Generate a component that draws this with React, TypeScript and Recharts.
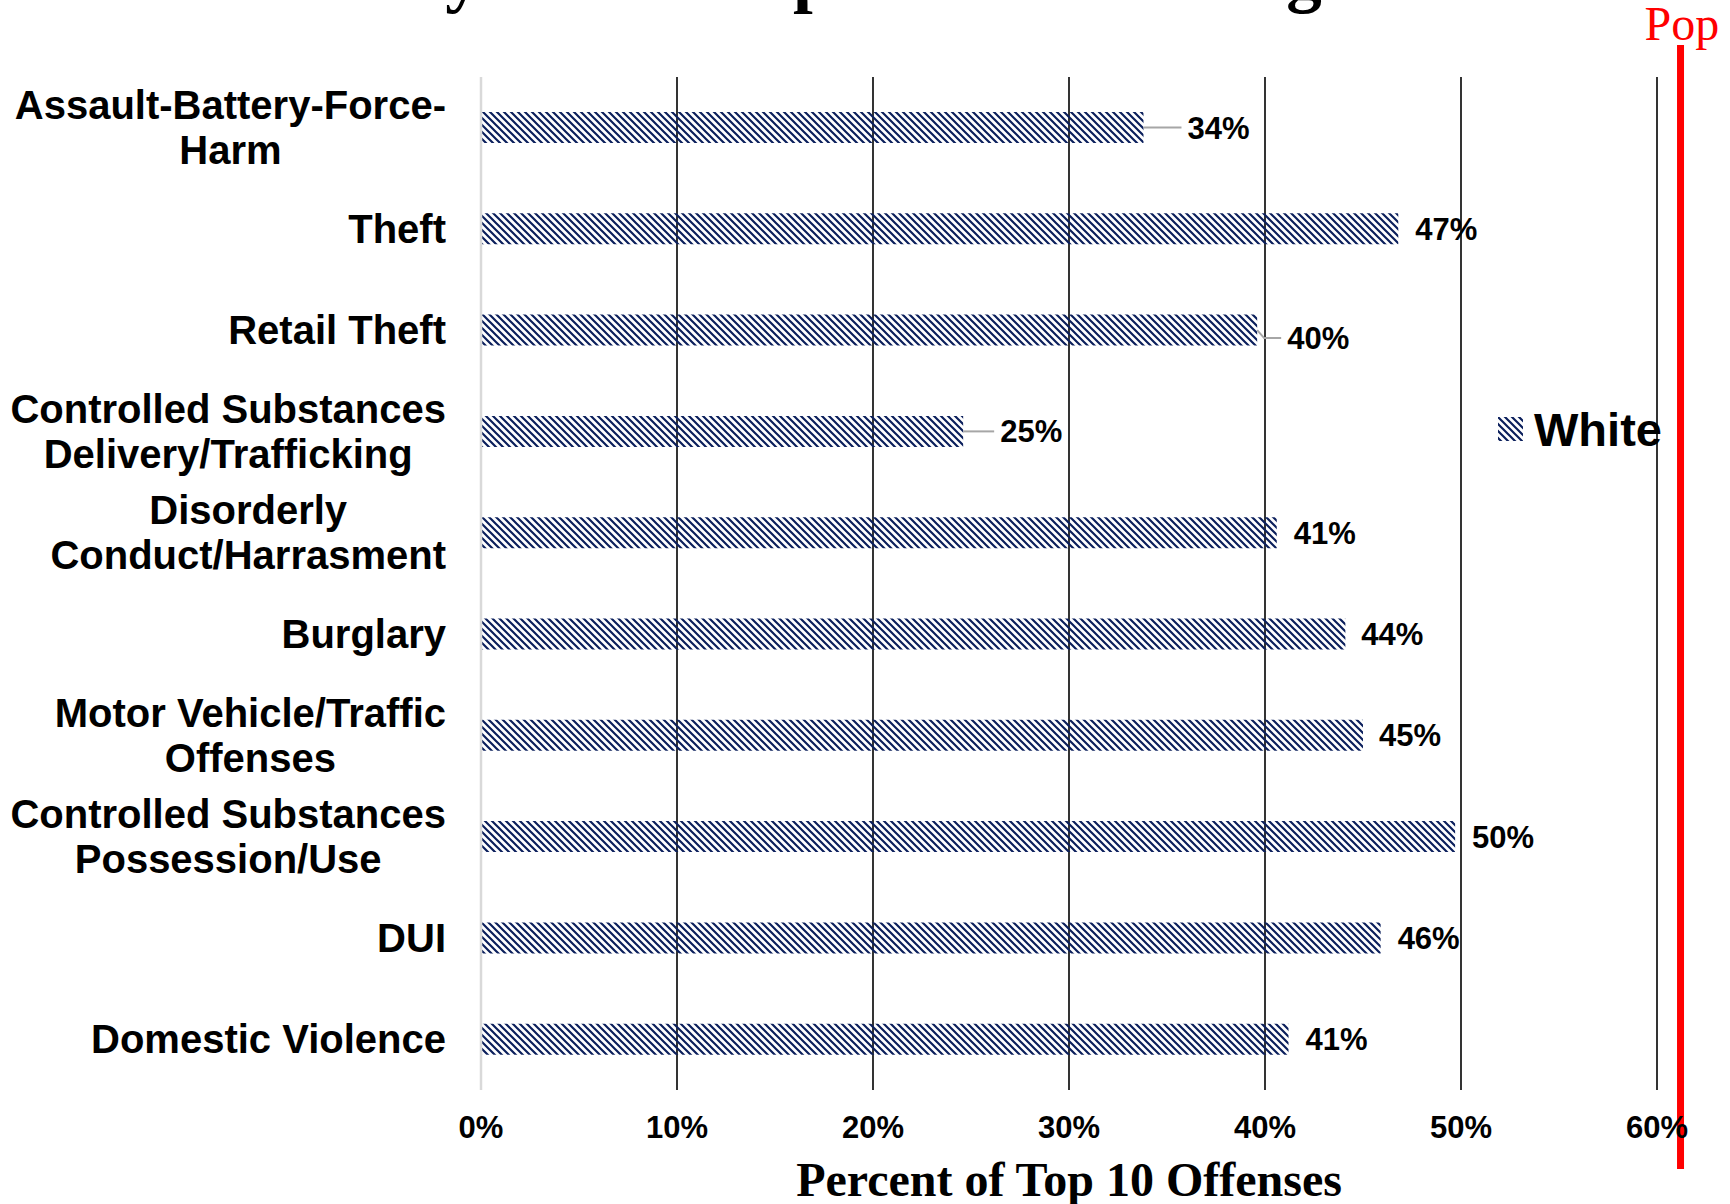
import React from "react";
import {
    BarChart,
    Bar,
    XAxis,
    YAxis,
    CartesianGrid,
    LabelList,
    Legend,
    ReferenceLine,
} from "recharts";

// categories, top to bottom ("\n" marks the line break of the axis label)
const offenses = [
    "Assault-Battery-Force-\nHarm",
    "Theft",
    "Retail Theft",
    "Controlled Substances\nDelivery/Trafficking",
    "Disorderly\nConduct/Harrasment",
    "Burglary",
    "Motor Vehicle/Traffic\nOffenses",
    "Controlled Substances\nPossession/Use",
    "DUI",
    "Domestic Violence",
];

// percent of each offense charged to White defendants
const whiteShare = [33.8, 46.8, 39.6, 24.6, 40.6, 44.1, 45.0, 49.7, 45.9, 41.2];

const pctTicks = [0, 10, 20, 30, 40, 50, 60];
const popShare = 61.2;

const seriesName = "White";
const chartTitle = "Summary for the Top Offenses Charged";
const axisTitle = "Percent of Top 10 Offenses";
const popLabel = "Pop";

const data = offenses.map((offense, i) => ({ offense, white: whiteShare[i] }));

const SANS = "'Liberation Sans', Arial, sans-serif";
const SERIF = "'Liberation Serif', 'Times New Roman', serif";
const NAVY = "#0b1f5c";

// gap between bar end and its label; a few labels were dragged out with leader lines
const labelGap = [44, 17, 30, 37, 17, 16, 16, 17, 17, 17];
const labelDy = [0, 0, 8, 0, 0, 0, 0, 0, 0, 0];
const hasLeader = [true, false, true, true, false, false, false, false, false, false];

let ctx: CanvasRenderingContext2D | null = null;
const textWidth = (s: string, font: string) => {
    if (!ctx) ctx = document.createElement("canvas").getContext("2d");
    if (!ctx) return s.length * 20;
    ctx.font = font;
    return ctx.measureText(s).width;
};

const HatchPattern = ({ id }: { id: string }) => (
    <pattern id={id} width={7} height={7} patternUnits="userSpaceOnUse">
        <path
            d="M-1,-1 L8,8 M-1,6 L1,8 M6,-1 L8,1"
            stroke={NAVY}
            strokeWidth={2.2}
        />
    </pattern>
);

const CategoryTick = (props: any) => {
    const { x, y, payload } = props;
    const lines: string[] = String(payload.value).split("\n");
    const font = `bold 40px ${SANS}`;
    const maxW = Math.max(...lines.map((l) => textWidth(l, font)));
    const cx = x - maxW / 2;
    return (
        <g>
            {lines.map((l, i) => (
                <text
                    key={i}
                    x={cx}
                    y={y + (i - (lines.length - 1) / 2) * 45 + 14}
                    textAnchor="middle"
                    fontFamily={SANS}
                    fontWeight="bold"
                    fontSize={40}
                    fill="#000"
                >
                    {l}
                </text>
            ))}
        </g>
    );
};

const PctTick = (props: any) => {
    const { x, y, payload } = props;
    return (
        <text
            x={x}
            y={y + 48}
            textAnchor="middle"
            fontFamily={SANS}
            fontWeight="bold"
            fontSize={31}
            fill="#000"
        >
            {`${payload.value}%`}
        </text>
    );
};

const ValueLabel = (props: any) => {
    const { x, y, width, height, value, index } = props;
    const end = x + width;
    const cy = y + height / 2;
    const gap = labelGap[index] ?? 17;
    const dy = labelDy[index] ?? 0;
    return (
        <g>
            {hasLeader[index] && (
                <polyline
                    points={
                        dy
                            ? `${end},${cy} ${end + 7},${cy + dy} ${end + gap - 6},${cy + dy}`
                            : `${end},${cy} ${end + gap - 6},${cy}`
                    }
                    fill="none"
                    stroke="#a6a6a6"
                    strokeWidth={2}
                />
            )}
            <text
                x={end + gap}
                y={cy + dy + 11}
                fontFamily={SANS}
                fontWeight="bold"
                fontSize={31}
                fill="#000"
            >
                {`${Math.round(value)}%`}
            </text>
        </g>
    );
};

const LegendBox = () => (
    <svg width={180} height={60} style={{ display: "block" }}>
        <defs>
            <HatchPattern id="hatchLegend" />
        </defs>
        <rect x={3} y={17} width={25} height={24} fill="url(#hatchLegend)" />
        <text x={39} y={46} fontFamily={SANS} fontWeight="bold" fontSize={47} fill="#000">
            {seriesName}
        </text>
    </svg>
);

const App = () => {
    return (
        <div style={{ position: "absolute", left: 0, top: 0, width: 1730, height: 1204, background: "#fff", overflow: "hidden" }}>
            <BarChart
                width={1730}
                height={1204}
                data={data}
                layout="vertical"
                margin={{ top: 77, right: 73, bottom: 0, left: 0 }}
            >
                <defs>
                    <HatchPattern id="hatchWhite" />
                </defs>
                <text x={181} y={-1.5} fontFamily={SERIF} fontWeight="bold" fontSize={71} fill="#000">
                    {chartTitle}
                </text>
                <CartesianGrid horizontal={false} stroke="#000" strokeWidth={1.6} />
                <XAxis
                    type="number"
                    domain={[0, 60]}
                    ticks={pctTicks}
                    height={114}
                    axisLine={false}
                    tickLine={false}
                    tickSize={0}
                    tickMargin={0}
                    tick={<PctTick />}
                    label={{
                        content: (p: any) => {
                            const vb = p.viewBox;
                            return (
                                <text
                                    x={vb.x + vb.width / 2}
                                    y={vb.y + 106}
                                    textAnchor="middle"
                                    fontFamily={SERIF}
                                    fontWeight="bold"
                                    fontSize={48}
                                    fill="#000"
                                >
                                    {axisTitle}
                                </text>
                            );
                        },
                    }}
                />
                <YAxis
                    type="category"
                    dataKey="offense"
                    width={481}
                    interval={0}
                    tickLine={false}
                    tickSize={0}
                    tickMargin={35}
                    axisLine={{ stroke: "#d9d9d9", strokeWidth: 2.5 }}
                    tick={<CategoryTick />}
                />
                <Legend
                    layout="horizontal"
                    verticalAlign="middle"
                    align="center"
                    wrapperStyle={{ left: 1495, top: 400, width: 180 }}
                    content={() => <LegendBox />}
                />
                <Bar
                    dataKey="white"
                    name={seriesName}
                    fill="url(#hatchWhite)"
                    barSize={31}
                    isAnimationActive={false}
                >
                    <LabelList dataKey="white" content={<ValueLabel />} />
                </Bar>
                <ReferenceLine
                    x={popShare}
                    ifOverflow="visible"
                    stroke="#ff0000"
                    strokeWidth={7}
                    shape={(p: any) => (
                        <line
                            x1={p.x1}
                            x2={p.x2}
                            y1={Math.min(p.y1, p.y2) - 32}
                            y2={Math.max(p.y1, p.y2) + 79}
                            stroke="#ff0000"
                            strokeWidth={7}
                        />
                    )}
                    label={{
                        content: (p: any) => {
                            const vb = p.viewBox;
                            return (
                                <text
                                    x={vb.x - 36}
                                    y={vb.y - 37}
                                    fontFamily={SERIF}
                                    fontSize={48}
                                    fill="#ff0000"
                                >
                                    {popLabel}
                                </text>
                            );
                        },
                    }}
                />
            </BarChart>
        </div>
    );
};

export default App;
